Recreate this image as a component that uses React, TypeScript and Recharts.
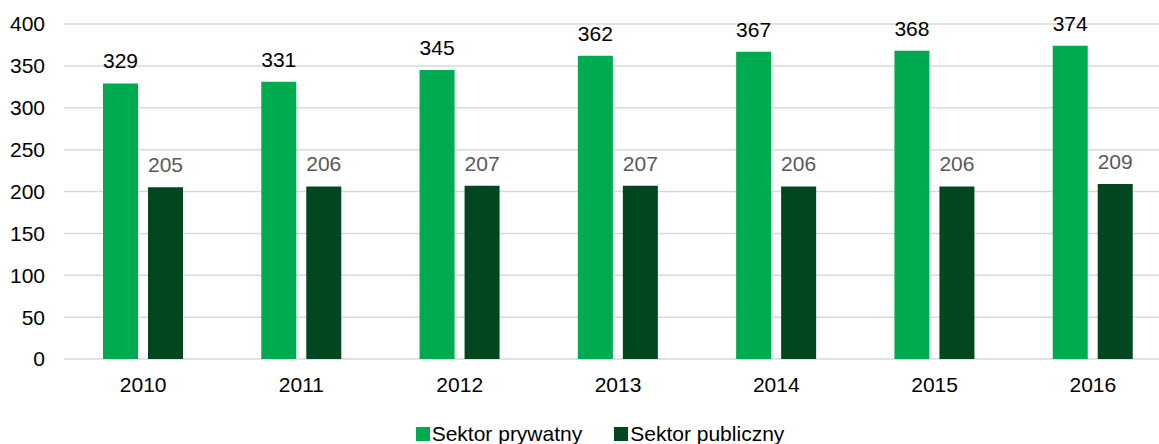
import React from 'react';
import { BarChart, Bar, XAxis, YAxis, CartesianGrid, Legend, LabelList } from 'recharts';

const years = ['2010', '2011', '2012', '2013', '2014', '2015', '2016'];
const prywatny = [329, 331, 345, 362, 367, 368, 374];
const publiczny = [205, 206, 207, 207, 206, 206, 209];
const yTicks = [0, 50, 100, 150, 200, 250, 300, 350, 400];

const series = [
  { key: 'prywatny', name: 'Sektor prywatny', color: '#00AA4F', label: '#000000' },
  { key: 'publiczny', name: 'Sektor publiczny', color: '#00461F', label: '#595959' },
];

const data = years.map((year, i) => ({ year, prywatny: prywatny[i], publiczny: publiczny[i] }));

const FONT = '"Liberation Sans", Arial, sans-serif';
const FS = 21;

// legenda wycentrowana na pełnej szerokości wykresu (1200px)
const LegendContent = () => (
  <div style={{ display: 'flex', justifyContent: 'center', paddingLeft: 28, fontFamily: FONT, fontSize: FS, color: '#000' }}>
    {series.map((s, i) => (
      <div key={s.key} style={{ display: 'flex', alignItems: 'center', marginLeft: i ? 32 : 0 }}>
        <span style={{ display: 'inline-block', width: 14, height: 14, background: s.color, marginRight: 2 }} />
        <span>{s.name}</span>
      </div>
    ))}
  </div>
);

export default function App() {
  return (
    <div style={{ position: 'absolute', left: 0, top: 0, width: 1159, height: 444, overflow: 'hidden', background: '#fff' }}>
      <BarChart
        width={1200}
        height={444}
        data={data}
        margin={{ top: 24, right: 28, bottom: 0, left: 0 }}
        barSize={35}
        barGap={10}
      >
        <CartesianGrid vertical={false} stroke="#D9D9D9" strokeWidth={1.5} />
        <XAxis
          dataKey="year"
          axisLine={false}
          tickLine={false}
          tickSize={0}
          tickMargin={18}
          height={63}
          tick={{ fill: '#000', fontSize: FS, fontFamily: FONT }}
        />
        <YAxis
          domain={[0, 400]}
          ticks={yTicks}
          axisLine={false}
          tickLine={false}
          tickSize={0}
          tickMargin={19}
          width={64}
          tick={{ fill: '#000', fontSize: FS, fontFamily: FONT }}
        />
        <Legend verticalAlign="bottom" height={22} content={<LegendContent />} />
        {series.map((s) => (
          <Bar key={s.key} dataKey={s.key} name={s.name} fill={s.color} isAnimationActive={false}>
            <LabelList
              dataKey={s.key}
              position="top"
              offset={15}
              fill={s.label}
              fontSize={FS}
              fontFamily={FONT}
            />
          </Bar>
        ))}
      </BarChart>
    </div>
  );
}
